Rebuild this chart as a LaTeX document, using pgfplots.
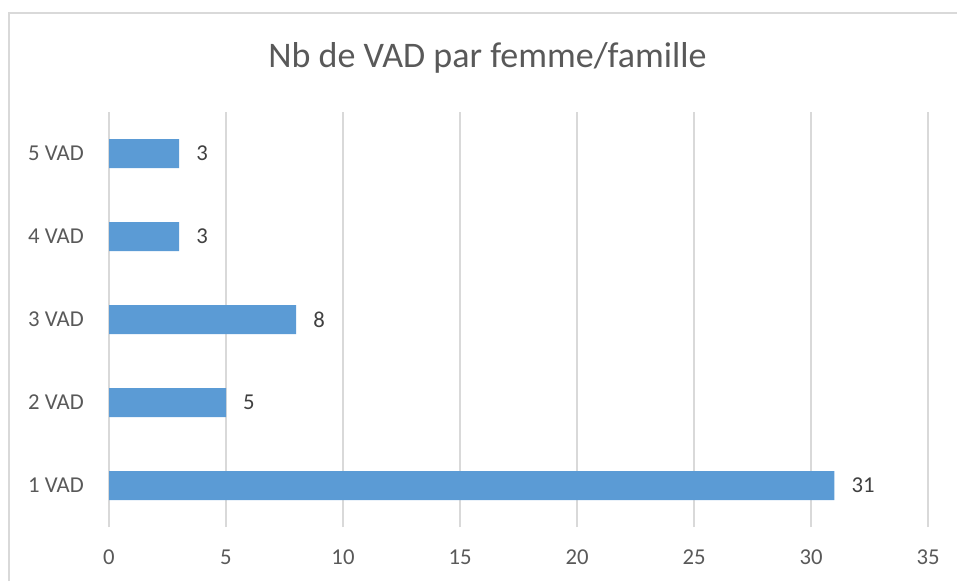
\documentclass[border=0pt]{standalone}
\usepackage{pgfplots}
\pgfplotsset{compat=1.18}
\usepackage{fontspec}
\setmainfont{Carlito}
\definecolor{barblue}{HTML}{5B9BD5}
\definecolor{gridgray}{HTML}{D9D9D9}
\definecolor{ticktext}{HTML}{595959}
\definecolor{labtext}{HTML}{404040}
\begin{document}
\begin{tikzpicture}[x=1pt,y=1pt]
\begin{axis}[
  at={(109pt,54pt)}, anchor=south west,
  scale only axis,
  width=819pt, height=415pt,
  xbar, bar width=29pt,
  xmin=0, xmax=35,
  ymin=0.5, ymax=5.5,
  xtick={0,5,...,35},
  ytick={1,2,3,4,5},
  yticklabels={1 VAD,2 VAD,3 VAD,4 VAD,5 VAD},
  axis line style={draw=none},
  major tick length=0pt,
  xmajorgrids, grid style={gridgray, line width=1.2pt},
  /pgf/number format/assume math mode=true,
  tick label style={font=\fontsize{22.7}{27}\selectfont, text=ticktext, inner sep=0pt},
  yticklabel style={anchor=east, xshift=-25pt},
  xticklabel style={anchor=north, yshift=-23pt},
  nodes near coords,
  every node near coord/.append style={font=\fontsize{22.7}{27}\selectfont, text=labtext, anchor=west, inner sep=0pt, xshift=17pt},
]
\addplot[fill=barblue, draw=none] coordinates {(31,1) (5,2) (8,3) (3,4) (3,5)};
\end{axis}
\draw[gridgray, line width=1.2pt] (9,0) -- (9,568) -- (957,568);
\node[anchor=base, inner sep=0pt, text=ticktext, font=\fontsize{36}{42}\selectfont] at (487.5,513) {Nb de VAD par femme/famille};
\pgfresetboundingbox
\path[use as bounding box] (0,0) rectangle (957,581);
\end{tikzpicture}
\end{document}
